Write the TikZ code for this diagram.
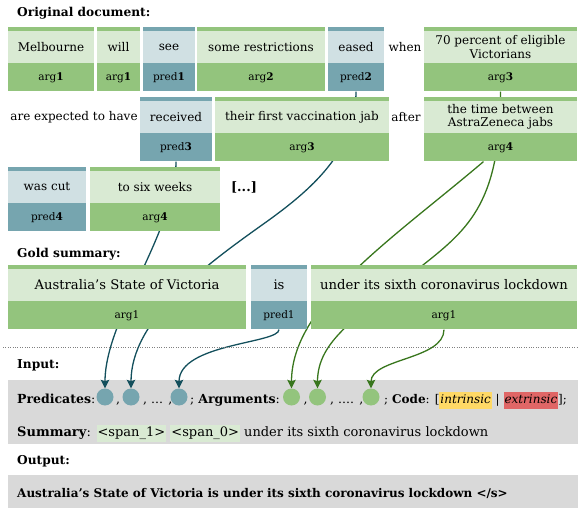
\documentclass[tikz,border=0pt]{standalone}
\usepackage{fontspec}
\setmainfont{DejaVu Serif}
\usetikzlibrary{positioning,arrows.meta}

\definecolor{argLight}{HTML}{D9EAD3}
\definecolor{argDark}{HTML}{93C47D}
\definecolor{predLight}{HTML}{D0E0E3}
\definecolor{predDark}{HTML}{76A5AF}
\definecolor{predLine}{HTML}{134F5C}
\definecolor{argLine}{HTML}{38761D}
\definecolor{panelGray}{HTML}{D9D9D9}
\definecolor{codeYellow}{HTML}{FFD966}
\definecolor{codeRed}{HTML}{E06666}

\pgfdeclarelayer{bg}
\pgfdeclarelayer{lines}
\pgfsetlayers{bg,lines,main}

\tikzset{
  word/.style={minimum height=32pt, inner sep=0pt, align=center,
    font=\fontsize{12}{13.5}\selectfont},
  argword/.style={word, fill=argLight},
  predword/.style={word, fill=predLight},
  gold/.style={font=\fontsize{13.2}{15}\selectfont},
  role/.style={minimum height=28pt, inner sep=0pt,
    font=\fontsize{10.5}{12}\selectfont},
  argrole/.style={role, fill=argDark},
  predrole/.style={role, fill=predDark},
  plain/.style={inner sep=0pt, font=\fontsize{12}{13.5}\selectfont},
  heading/.style={anchor=west, inner sep=0pt,
    font=\fontsize{12.2}{14}\selectfont\bfseries},
  inline/.style={anchor=base west, inner sep=0pt,
    font=\fontsize{12.5}{15}\selectfont},
  panel/.style={fill=panelGray, anchor=north west, inner sep=0pt},
  dot/.style={circle, inner sep=0pt, minimum size=17pt},
  pdot/.style={dot, fill=predDark},
  adot/.style={dot, fill=argDark},
  predlink/.style={draw=predLine, line width=1.3pt,
    -{Stealth[length=8.5pt, width=8.5pt, inset=1.5pt]}},
  arglink/.style={draw=argLine, line width=1.3pt,
    -{Stealth[length=8.5pt, width=8.5pt, inset=1.5pt]}},
}

% [word options], name, kind (arg/pred), position, width, words, role
\newcommand{\srlbox}[7][]{%
  \node[#3word, minimum width=#5pt, #1] (#2) at #4 {#6};
  \node[#3role, minimum width=#5pt, below=0pt of #2] (#2r) {#7};
  \fill[#3Dark] (#2.north west) rectangle ([yshift=4pt]#2.north east);
}
\newcommand{\hlword}[2]{{\setlength{\fboxsep}{1pt}\colorbox{#1}{\strut #2}}}

\begin{document}
\begin{tikzpicture}[x=1pt, y=-1pt]
  \useasboundingbox (0,0) rectangle (579,508);

  % original document
  \node[heading] (doclbl) at (17,13) {Original document:};
  \srlbox{melb}{arg}{(51,47)}{86}{Melbourne}{arg\textbf{1}}
  \srlbox{will}{arg}{(118.5,47)}{43}{will}{arg\textbf{1}}
  \srlbox{see}{pred}{(169,47)}{52}{see}{pred\textbf{1}}
  \srlbox{restr}{arg}{(261,47)}{128}{some restrictions}{arg\textbf{2}}
  \srlbox{eased}{pred}{(356,47)}{56}{eased}{pred\textbf{2}}
  \node[plain] (when) at (405,47) {when};
  \srlbox{victo}{arg}{(500.5,47)}{153}{70 percent of eligible\\Victorians}{arg\textbf{3}}

  \node[plain] (expect) at (74,117) {are expected to have};
  \srlbox{recv}{pred}{(176,117)}{72}{received}{pred\textbf{3}}
  \srlbox{jab}{arg}{(302,117)}{174}{their first vaccination jab}{arg\textbf{3}}
  \node[plain] (after) at (406,117) {after};
  \srlbox{astra}{arg}{(500.5,117)}{153}{the time between\\AstraZeneca jabs}{arg\textbf{4}}

  \srlbox{cut}{pred}{(47,187)}{78}{was cut}{pred\textbf{4}}
  \srlbox{weeks}{arg}{(155,187)}{130}{to six weeks}{arg\textbf{4}}
  \node[plain, font=\fontsize{13}{14}\selectfont\bfseries] (more) at (244,187) {[...]};

  % gold summary
  \node[heading] (goldlbl) at (17,254) {Gold summary:};
  \srlbox[gold]{aus}{arg}{(127,285)}{238}{Australia’s State of Victoria}{arg1}
  \srlbox[gold]{is}{pred}{(279,285)}{56}{is}{pred1}
  \srlbox[gold]{under}{arg}{(444,285)}{266}{under its sixth coronavirus lockdown}{arg1}

  \draw[dotted, gray] (3,347) -- (579,347);

  % input / output
  \node[heading] (inlbl) at (17,365) {Input:};
  \begin{pgfonlayer}{bg}
    \node[panel, minimum width=570pt, minimum height=64pt] (inpanel) at (8,380) {};
    \node[panel, minimum width=570pt, minimum height=33pt] (outpanel) at (8,475) {};
  \end{pgfonlayer}
  \node[inline] (predlbl) at (17,403) {\textbf{Predicates}:};
  \node[pdot] (p1) at (105,397) {};
  \node[inline] (sep1) at (116,403) {,};
  \node[pdot] (p2) at (131,397) {};
  \node[inline] (sep2) at (143,403) {, ... ,};
  \node[pdot] (p3) at (179,397) {};
  \node[inline] (arglbl) at (190,403) {; \textbf{Arguments}:};
  \node[adot] (a1) at (291.5,397) {};
  \node[inline] (sep4) at (303.5,403) {,};
  \node[adot] (a2) at (317.5,397) {};
  \node[inline] (sep5) at (330,403) {, .... ,};
  \node[adot] (a3) at (371,397) {};
  \node[inline, font=\fontsize{12}{15}\selectfont] (code) at (384,403)
    {; \textbf{Code}: [\hlword{codeYellow}{\textit{intrinsic}} | \hlword{codeRed}{\textit{extrinsic}}];};
  \node[inline, font=\fontsize{13}{15}\selectfont] (summ) at (17,436)
    {\textbf{Summary}: \hlword{argLight}{<span\_1>} \hlword{argLight}{<span\_0>} under its sixth coronavirus lockdown};

  \node[heading] (outlbl) at (17,461) {Output:};
  \node[inline, font=\fontsize{12}{14}\selectfont\bfseries] (outtext) at (17,497)
    {Australia’s State of Victoria is under its sixth coronavirus lockdown </s>};

  % links from the roles to the input slots
  \begin{pgfonlayer}{lines}
    \draw[predlink] (recvr.south) .. controls +(0,70) and +(0,-70) .. (p1.north);
    \draw[predlink] (easedr.south) .. controls +(0,59) and +(51,-36) .. (262,225)
      .. controls +(-59,42) and +(0,-68) .. (p2.north);
    \draw[predlink] (isr.south) .. controls +(0,14) and +(0,-45) .. (p3.north);
    \draw[arglink] ([xshift=-17pt]astrar.south) .. controls +(-93,79) and +(0,-83) .. (a1.north);
    \draw[arglink] (victor.south) .. controls +(0,109) and +(47,-37) .. (423,265)
      .. controls +(-66,52) and +(0,-48) .. (a2.north);
    \draw[arglink] (underr.south) .. controls +(0,30) and +(0,-30) .. (a3.north);
  \end{pgfonlayer}
\end{tikzpicture}
\end{document}
